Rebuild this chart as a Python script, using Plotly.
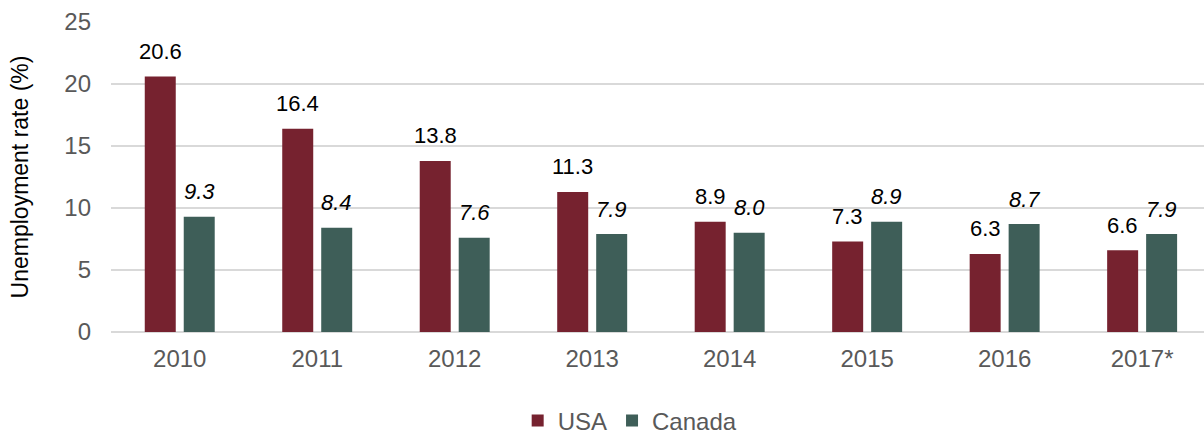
import plotly.graph_objects as go

years = ["2010", "2011", "2012", "2013", "2014", "2015", "2016", "2017*"]
usa = [20.6, 16.4, 13.8, 11.3, 8.9, 7.3, 6.3, 6.6]
canada = [9.3, 8.4, 7.6, 7.9, 8.0, 8.9, 8.7, 7.9]
y_ticks = [0, 5, 10, 15, 20, 25]

USA_COLOR = "#76222F"
CAN_COLOR = "#3E5E58"
FONT = "Arial, Liberation Sans, sans-serif"

fig = go.Figure()
fig.add_trace(go.Bar(name="USA", x=years, y=usa, marker_color=USA_COLOR,
                     marker_line_width=0))
fig.add_trace(go.Bar(name="Canada", x=years, y=canada, marker_color=CAN_COLOR,
                     marker_line_width=0))

# value labels above each bar (Canada in italics); category index used for x
for i, v in enumerate(usa):
    fig.add_annotation(x=i, y=v, xref="x", yref="y", text=f"{v:.1f}",
                       showarrow=False, xshift=-19.5, yshift=25,
                       font=dict(family=FONT, size=22, color="#000000"))
for i, v in enumerate(canada):
    fig.add_annotation(x=i, y=v, xref="x", yref="y", text=f"<i>{v:.1f}</i>",
                       showarrow=False, xshift=19.5, yshift=25,
                       font=dict(family=FONT, size=22, color="#000000"))

fig.update_layout(
    width=1204, height=434,
    margin=dict(l=111, r=0, t=22, b=102, autoexpand=False),
    paper_bgcolor="white", plot_bgcolor="white",
    barmode="group", bargap=0.433, bargroupgap=0.205,
    font=dict(family=FONT, size=22, color="#595959"),
    showlegend=True,
    legend=dict(orientation="h", x=0.475, xanchor="center",
                yref="container", y=0.03, yanchor="middle",
                font=dict(family=FONT, size=24, color="#595959"),
                itemwidth=30, traceorder="normal"),
    xaxis=dict(type="category", range=[-0.5, 7.45], showgrid=False,
               showline=False, ticks="", ticklabelstandoff=10, automargin=False,
               tickfont=dict(family=FONT, size=24, color="#595959")),
    yaxis=dict(range=[0, 25], tickvals=y_ticks, showgrid=True,
               gridcolor="#D9D9D9", gridwidth=1.5, zeroline=True,
               zerolinecolor="#D9D9D9", zerolinewidth=1.5, showline=False,
               ticks="", ticklabelstandoff=19, automargin=False,
               tickfont=dict(family=FONT, size=24, color="#595959")),
)
fig.update_yaxes(title=dict(text="Unemployment rate (%)", standoff=29,
                            font=dict(family=FONT, size=23, color="#000000")))

fig.write_html("out.html")
